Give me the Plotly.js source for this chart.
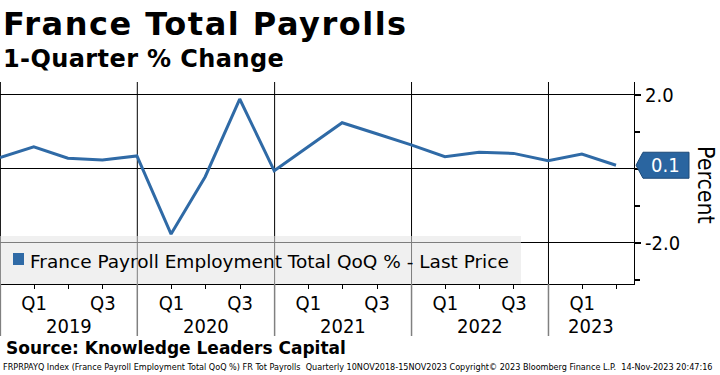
<!DOCTYPE html>
<html>
<head>
<meta charset="utf-8">
<script src="https://cdn.plot.ly/plotly-3.0.1.min.js"></script>
<style>html,body{margin:0;padding:0;background:#fff;}#chart{width:720px;height:375px;}</style>
</head>
<body>
<div id="chart"></div>
<script>
// ---- data ----
const quarterDates = ['2018-12-31','2019-03-31','2019-06-30','2019-09-30','2019-12-31',
  '2020-03-31','2020-06-30','2020-09-30','2020-12-31',
  '2021-03-31','2021-06-30','2021-09-30','2021-12-31',
  '2022-03-31','2022-06-30','2022-09-30','2022-12-31',
  '2023-03-31','2023-06-30'];
const qoqChange = [0.31, 0.60, 0.29, 0.24, 0.35,
  -1.76, -0.21, 1.89, -0.05,
  0.60, 1.25, 0.95, 0.65,
  0.33, 0.45, 0.42, 0.22,
  0.40, 0.10];
const tickDates = ['2019-01-01','2019-04-01','2019-07-01','2019-10-01',
  '2020-01-01','2020-04-01','2020-07-01','2020-10-01',
  '2021-01-01','2021-04-01','2021-07-01','2021-10-01',
  '2022-01-01','2022-04-01','2022-07-01','2022-10-01',
  '2023-01-01','2023-04-01','2023-07-01'];
const tickLabels = ['','Q1','','Q3','','Q1','','Q3','','Q1','','Q3','','Q1','','Q3','','Q1',''];
const years = ['2019','2020','2021','2022','2023'];
const yTickVals = [-2, 0, 2];
const yTickText = ['-2.0', '', '2.0'];
const seriesName = 'France Payroll Employment Total QoQ % - Last Price';
const lastValueText = '0.1';

// ---- layout helpers ----
const W = 720, H = 375;
const M = {l: 0, r: 86, t: 82, b: 91};
const plotW = W - M.l - M.r, plotH = H - M.t - M.b;
const px = p => (p - M.l) / plotW;
const py = p => (H - M.b - p) / plotH;
const yRange = [-3.11, 2.35];
const xRange = ['2018-12-31', '2023-08-17'];
const BLUE = '#2f6aa6';
const COND = 'DejaVu Sans Condensed, DejaVu Sans, sans-serif';
const REG = 'DejaVu Sans, sans-serif';
const BOLD = 'DejaVu Sans, Verdana, sans-serif';

const shapes = [];
const annotations = [];
const t = s => new Date(s + 'T00:00:00Z').getTime();
const xEnd = t(xRange[1]);

years.forEach(y => {
  shapes.push({type: 'line', xref: 'x', yref: 'paper', x0: y + '-01-01', x1: y + '-01-01', y0: 0, y1: 1,
    line: {color: '#000', width: 1}, layer: 'below'});
  shapes.push({type: 'line', xref: 'x', yref: 'paper', x0: y + '-01-01', x1: y + '-01-01', y0: 0, y1: py(336),
    line: {color: '#808080', width: 1.5}});
  // centre of the visible part of the year
  const a = t(y + '-01-01'), b = Math.min(t((+y + 1) + '-01-01'), xEnd);
  const mid = new Date((a + b) / 2).toISOString().slice(0, 10);
  annotations.push({text: y, xref: 'x', yref: 'paper', x: mid, y: py(325.5), xanchor: 'center', yanchor: 'middle',
    height: 20, borderpad: 0,
    showarrow: false, font: {family: COND, size: 20, color: '#000'}});
});

// legend box
shapes.push({type: 'rect', xref: 'paper', yref: 'paper', x0: 0, x1: px(521), y0: 0, y1: py(236),
  fillcolor: 'rgba(228,228,228,0.55)', line: {width: 0}, layer: 'above'});
shapes.push({type: 'rect', xref: 'paper', yref: 'paper', x0: px(13), x1: px(24), y0: py(265), y1: py(253),
  fillcolor: BLUE, line: {width: 0}, layer: 'above'});
annotations.push({text: seriesName, xref: 'paper', yref: 'paper', x: px(28), y: py(261), xanchor: 'left', yanchor: 'middle',
  showarrow: false, font: {family: REG, size: 18.5, color: '#000'}});

// last value tag
const last = qoqChange[qoqChange.length - 1];
const hh = 13 / (plotH / (yRange[1] - yRange[0]));
shapes.push({type: 'path', xref: 'paper', yref: 'y', layer: 'above',
  path: `M ${px(636)},${last} L ${px(643)},${last + hh} L ${px(689)},${last + hh} L ${px(689)},${last - hh} L ${px(643)},${last - hh} Z`,
  fillcolor: '#2a65a0', line: {color: '#1d4a78', width: 1}});
annotations.push({text: lastValueText, xref: 'paper', yref: 'y', x: px(666), y: last, xanchor: 'center', yanchor: 'middle',
  showarrow: false, font: {family: COND, size: 20, color: '#fff'}});

// axis title
annotations.push({text: 'Percent', xref: 'paper', yref: 'paper', x: px(706), y: py(185), xanchor: 'center', yanchor: 'middle',
  textangle: 90, showarrow: false, font: {family: COND, size: 23, color: '#000'}});

// titles / footer
annotations.push({text: '<b><span style="letter-spacing:1.5px">France Total Payrolls</span></b>', xref: 'paper', yref: 'paper', x: px(1), y: py(24), xanchor: 'left', yanchor: 'middle',
  showarrow: false, font: {family: BOLD, size: 32, color: '#000'}});
annotations.push({text: '<b><span style="letter-spacing:0.4px">1-Quarter % Change</span></b>', xref: 'paper', yref: 'paper', x: px(1), y: py(59), xanchor: 'left', yanchor: 'middle',
  showarrow: false, font: {family: BOLD, size: 24, color: '#000'}});
annotations.push({text: '<b>Source: Knowledge Leaders Capital</b>', xref: 'paper', yref: 'paper', x: px(4), y: py(348), xanchor: 'left', yanchor: 'middle',
  showarrow: false, font: {family: BOLD, size: 17, color: '#000'}});
annotations.push({text: 'FRPRPAYQ Index (France Payroll Employment Total QoQ %) FR Tot Payrolls  Quarterly 10NOV2018-15NOV2023 Copyright© 2023 Bloomberg Finance L.P.  14-Nov-2023 20:47:16',
  xref: 'paper', yref: 'paper', x: px(1), y: py(367), xanchor: 'left', yanchor: 'middle',
  showarrow: false, font: {family: COND, size: 9, color: '#000'}});

const trace = {
  x: quarterDates, y: qoqChange, type: 'scatter', mode: 'lines', name: seriesName,
  line: {color: BLUE, width: 3}, hoverinfo: 'skip', showlegend: false
};

const layout = {
  width: W, height: H, margin: M,
  paper_bgcolor: '#fff', plot_bgcolor: '#fff',
  showlegend: false,
  xaxis: {
    type: 'date', range: xRange,
    tickmode: 'array', tickvals: tickDates, ticktext: tickLabels,
    ticks: 'outside', ticklen: 4, tickwidth: 1, tickcolor: '#000',
    ticklabelstandoff: -3,
    showgrid: false, zeroline: false, showline: true, linecolor: '#000', linewidth: 1,
    tickfont: {family: COND, size: 20, color: '#000'}, fixedrange: true
  },
  yaxis: {
    side: 'right', range: yRange,
    tickmode: 'array', tickvals: yTickVals, ticktext: yTickText,
    ticks: 'outside', ticklen: 6, tickwidth: 1.5, tickcolor: '#000',
    minor: {dtick: 1, tick0: 0, ticks: 'outside', ticklen: 5, tickcolor: '#000', showgrid: false},
    showgrid: true, gridcolor: '#000', gridwidth: 1,
    zeroline: true, zerolinecolor: '#000', zerolinewidth: 1,
    showline: true, linecolor: '#000', linewidth: 1,
    tickfont: {family: COND, size: 20, color: '#000'}, fixedrange: true
  },
  shapes: shapes,
  annotations: annotations
};

Plotly.newPlot('chart', [trace], layout, {staticPlot: true});
</script>
</body>
</html>
